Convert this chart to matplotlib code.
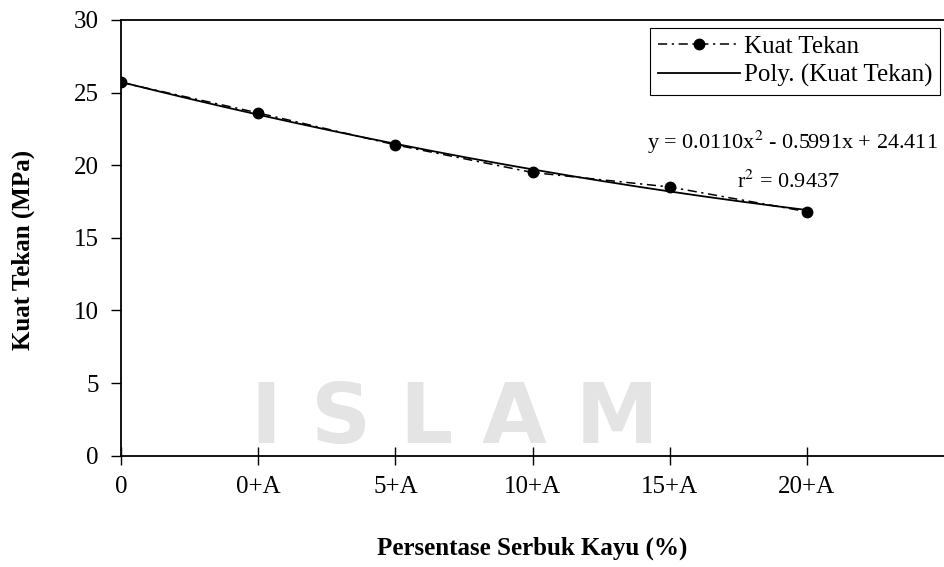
import numpy as np
import matplotlib
matplotlib.use("Agg")
import matplotlib.pyplot as plt

kategori = ["0", "0+A", "5+A", "10+A", "15+A", "20+A"]
kuat_tekan = [25.7, 23.6, 21.4, 19.5, 18.5, 16.8]
y_ticks = [0, 5, 10, 15, 20, 25, 30]
persamaan = "y = 0.0110x$^2$ - 0.5991x + 24.411"
r_kuadrat = "r$^2$ = 0.9437"

plt.rcParams["font.family"] = ["Liberation Serif", "DejaVu Serif"]
plt.rcParams["mathtext.fontset"] = "stix"

W, H = 944, 567
fig = plt.figure(figsize=(W / 100, H / 100), dpi=100)
ax = fig.add_axes([121 / W, 1 - 455.6 / H, 1 - 121 / W, (455.6 - 20) / H])

# watermark samar di belakang
fig.text(455 / W, 1 - 420 / H, "I S L A M", fontsize=60, fontweight="bold",
         family="DejaVu Sans", color="#e4e4e4", ha="center", va="center", zorder=0)
ax.patch.set_alpha(0)

x = np.arange(len(kategori))
ax.plot(x, kuat_tekan, color="black", linestyle=(0, (6, 3, 1.5, 3)), linewidth=1.1,
        marker="o", markersize=7.5, label="Kuat Tekan", zorder=3)

koef = np.polyfit(x, kuat_tekan, 2)
xs = np.linspace(0, len(kategori) - 1, 200)
ax.plot(xs, np.polyval(koef, xs), color="black", linewidth=1.3,
        label="Poly. (Kuat Tekan)", zorder=2)

ax.set_xlim(0, 6)
ax.set_ylim(0, 30)
ax.set_xticks(x)
ax.set_xticklabels(kategori, fontsize=18)
ax.set_yticks(y_ticks)
ax.set_yticklabels([str(v) for v in y_ticks], fontsize=18)
ax.tick_params(axis="y", direction="out", length=7, width=1, pad=9)
ax.tick_params(axis="x", direction="inout", length=13, width=1, pad=8)

for s in ["left", "bottom", "top"]:
    ax.spines[s].set_linewidth(1.3)
ax.spines["right"].set_visible(False)

ax.set_xlabel("Persentase Serbuk Kayu (%)", fontsize=18, fontweight="bold", labelpad=28)
fig.text(23 / W, 1 - 250 / H, "Kuat Tekan (MPa)", fontsize=18, fontweight="bold",
         rotation=90, ha="center", va="center")

leg = ax.legend(loc="upper right", bbox_to_anchor=(940 / W, 1 - 28 / H),
                bbox_transform=fig.transFigure, fontsize=18, frameon=True,
                fancybox=False, edgecolor="black", framealpha=1,
                handlelength=3.3, handletextpad=0.15, borderpad=0.3,
                labelspacing=0.25, borderaxespad=0)
leg.get_frame().set_linewidth(0.8)

fig.text(938 / W, 1 - 142 / H, persamaan, fontsize=16, ha="right", va="center")
fig.text(737 / W, 1 - 182 / H, r_kuadrat, fontsize=16, ha="left", va="center")

fig.savefig("out.png", dpi=100)
